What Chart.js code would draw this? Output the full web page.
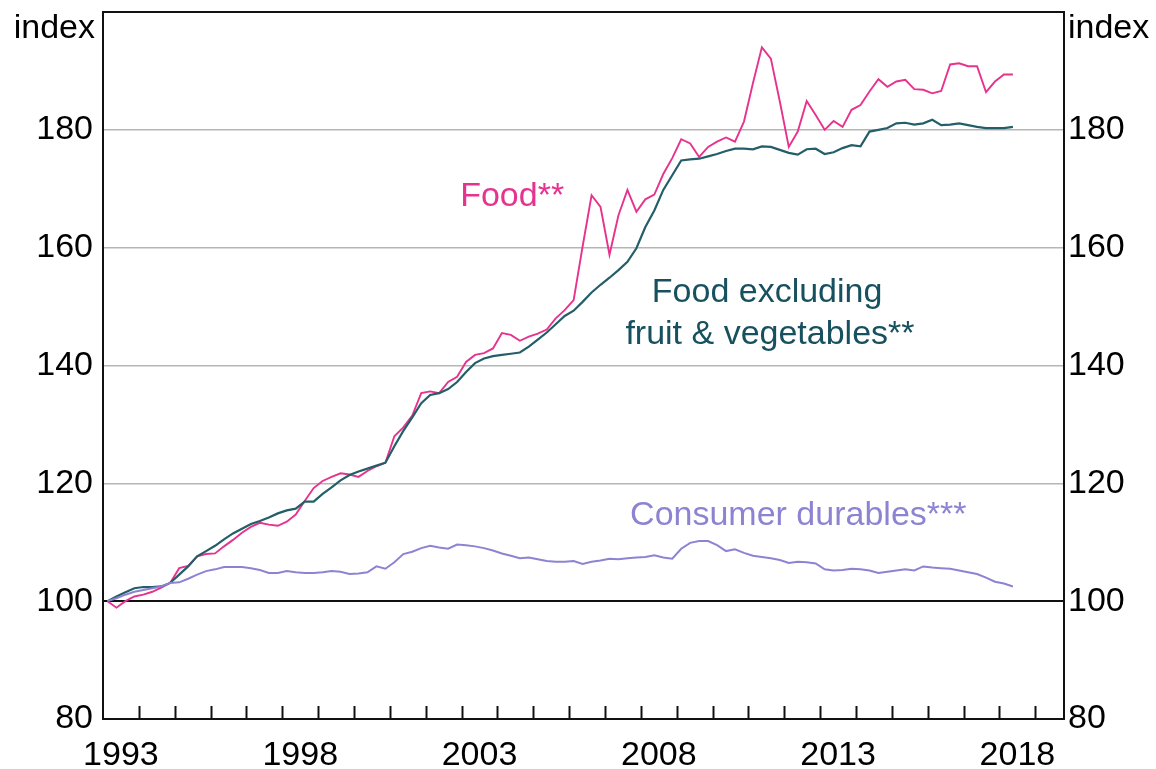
<!DOCTYPE html>
<html>
<head>
<meta charset="utf-8">
<script src="https://cdn.jsdelivr.net/npm/chart.js@4"></script>
<style>
  html, body { margin: 0; padding: 0; background: #fff; }
  #wrap { width: 1156px; height: 769px; }
</style>
</head>
<body>
<div id="wrap"><canvas id="grafico" width="1156" height="769"></canvas></div>
<script>
// quarterly series, 1993 Q1 to 2018 Q2, index = 100 at start
const startYear = 1993;
const yearLabels = ['1993', '1998', '2003', '2008', '2013', '2018'];
const yTicks = [80, 100, 120, 140, 160, 180];

const food = [
  100.0, 98.9, 100.0, 100.8, 101.1, 101.6, 102.3, 103.1, 105.6, 106.0,
  107.6, 108.0, 108.1, 109.3, 110.4, 111.6, 112.6, 113.3, 113.0, 112.8,
  113.5, 114.7, 117.0, 119.2, 120.4, 121.1, 121.7, 121.5, 121.1, 122.1,
  122.9, 123.5, 128.0, 129.5, 131.5, 135.3, 135.6, 135.3, 137.2, 138.1,
  140.6, 141.8, 142.1, 142.9, 145.5, 145.2, 144.2, 144.9, 145.4, 146.1,
  148.0, 149.4, 151.1, 160.2, 168.9, 166.9, 158.8, 165.5, 169.8, 166.1,
  168.2, 169.0, 172.5, 175.2, 178.4, 177.7, 175.4, 177.1, 178.0, 178.7,
  178.0, 181.4, 187.9, 194.0, 192.1, 184.8, 177.1, 179.7, 184.9, 182.5,
  180.0, 181.5, 180.5, 183.4, 184.2, 186.5, 188.6, 187.3, 188.2, 188.5,
  186.9, 186.8, 186.2, 186.6, 191.1, 191.3, 190.8, 190.8, 186.4, 188.2,
  189.4, 189.4
];

const foodExFV = [
  100.0, 100.8, 101.5, 102.2, 102.4, 102.4, 102.5, 103.1, 104.5, 105.9,
  107.6, 108.5, 109.4, 110.5, 111.5, 112.3, 113.1, 113.6, 114.2, 114.9,
  115.4, 115.7, 116.9, 116.9, 118.2, 119.3, 120.5, 121.4, 122.0, 122.5,
  123.0, 123.5, 126.3, 128.9, 131.2, 133.6, 135.0, 135.3, 136.0, 137.2,
  138.9, 140.4, 141.2, 141.6, 141.8, 142.0, 142.2, 143.2, 144.4, 145.6,
  147.0, 148.4, 149.3, 150.8, 152.4, 153.7, 154.9, 156.2, 157.6, 159.9,
  163.5, 166.3, 169.8, 172.3, 174.8, 175.0, 175.1, 175.5, 175.9, 176.4,
  176.8, 176.8, 176.7, 177.2, 177.1, 176.6, 176.1, 175.8, 176.7, 176.8,
  175.9, 176.2, 176.9, 177.4, 177.2, 179.7, 180.0, 180.3, 181.1, 181.2,
  180.9, 181.1, 181.7, 180.8, 180.9, 181.1, 180.8, 180.5, 180.3, 180.3,
  180.3, 180.5
];

const durables = [
  100.0, 100.5, 101.1, 101.6, 101.9, 102.2, 102.5, 103.1, 103.2, 103.8,
  104.5, 105.1, 105.4, 105.8, 105.8, 105.8, 105.6, 105.3, 104.8, 104.8,
  105.1, 104.9, 104.8, 104.8, 104.9, 105.1, 105.0, 104.6, 104.7, 104.9,
  105.9, 105.5, 106.6, 108.0, 108.4, 109.0, 109.4, 109.1, 108.9, 109.6,
  109.5, 109.3, 109.0, 108.6, 108.1, 107.7, 107.3, 107.4, 107.1, 106.8,
  106.7, 106.7, 106.8, 106.3, 106.7, 106.9, 107.2, 107.1, 107.3, 107.4,
  107.5, 107.8, 107.4, 107.2, 108.9, 109.9, 110.2, 110.2, 109.5, 108.5,
  108.8, 108.2, 107.7, 107.5, 107.3, 107.0, 106.5, 106.7, 106.6, 106.4,
  105.4, 105.2, 105.3, 105.5, 105.4, 105.2, 104.8, 105.0, 105.2, 105.4,
  105.2, 105.9, 105.7, 105.6, 105.5, 105.2, 104.9, 104.6, 104.0, 103.3,
  103.0, 102.5
];

const PINK = '#e6338d';
const TEAL = '#245f69';
const TEAL_TEXT = '#17505e';
const LAVENDER = '#8c84d2';
const FONT = "'Liberation Sans', Arial, sans-serif";
const SIZE = 34;

// each quarter plotted at mid-quarter
const toPoints = vals => vals.map((v, i) => ({ x: startYear + 0.125 + i * 0.25, y: v }));

const etiquetas = [
  { text: 'Food**', x: 2004.41, y: 168.6, color: PINK },
  { text: 'Food excluding', x: 2011.52, y: 152.4, color: TEAL_TEXT },
  { text: 'fruit & vegetables**', x: 2011.6, y: 145.3, color: TEAL_TEXT },
  { text: 'Consumer durables***', x: 2012.39, y: 114.6, color: LAVENDER }
];

function zeroPad(scale) {
  scale.paddingTop = 0; scale.paddingBottom = 0;
  scale.paddingLeft = 0; scale.paddingRight = 0;
}

const marco = {
  id: 'marco',
  afterDraw(chart) {
    const { ctx, chartArea: a, scales } = chart;
    ctx.save();
    // year tick marks pointing into the plot
    ctx.strokeStyle = '#111';
    ctx.lineWidth = 2;
    for (let yr = startYear + 1; yr <= 2019; yr++) {
      const px = Math.round(scales.x.getPixelForValue(yr)) + 0.5;
      ctx.beginPath();
      ctx.moveTo(px, a.bottom);
      ctx.lineTo(px, a.bottom - 13);
      ctx.stroke();
    }
    ctx.strokeRect(a.left, a.top, a.right - a.left, a.bottom - a.top);

    ctx.font = SIZE + 'px ' + FONT;
    ctx.fillStyle = '#000';
    ctx.textBaseline = 'alphabetic';
    ctx.textAlign = 'right';
    ctx.fillText('index', a.left - 8, a.top + 26);
    ctx.textAlign = 'left';
    ctx.fillText('index', a.right + 4, a.top + 26);

    ctx.textAlign = 'center';
    ctx.textBaseline = 'middle';
    etiquetas.forEach(e => {
      ctx.fillStyle = e.color;
      ctx.fillText(e.text, scales.x.getPixelForValue(e.x), scales.y.getPixelForValue(e.y));
    });
    ctx.restore();
  }
};

const ctx = document.getElementById('grafico').getContext('2d');
new Chart(ctx, {
  type: 'line',
  data: {
    datasets: [
      { label: 'Consumer durables***', data: toPoints(durables), borderColor: LAVENDER, borderWidth: 2 },
      { label: 'Food excluding fruit & vegetables**', data: toPoints(foodExFV), borderColor: TEAL, borderWidth: 2.2 },
      { label: 'Food**', data: toPoints(food), borderColor: PINK, borderWidth: 1.9 }
    ]
  },
  options: {
    responsive: false,
    animation: false,
    events: [],
    elements: { point: { radius: 0 }, line: { tension: 0, fill: false } },
    layout: { padding: { top: 12, left: 0, right: 0, bottom: 0 } },
    plugins: { legend: { display: false }, tooltip: { enabled: false } },
    scales: {
      x: {
        type: 'linear',
        position: 'bottom',
        min: 1993,
        max: 2019.8,
        grid: { display: false },
        border: { display: false },
        afterBuildTicks: s => { s.ticks = yearLabels.map(l => ({ value: Number(l) + 0.5 })); },
        afterFit: s => { s.height = 50; zeroPad(s); },
        ticks: {
          autoSkip: false,
          maxRotation: 0,
          padding: 8,
          color: '#000',
          font: { family: FONT, size: SIZE },
          callback: v => String(Math.floor(v))
        }
      },
      y: {
        position: 'left',
        min: 80,
        max: 200,
        border: { display: false },
        grid: {
          drawTicks: false,
          color: c => c.tick.value === 100 ? '#111' : (c.tick.value === 80 ? 'rgba(0,0,0,0)' : '#b5b5b5'),
          lineWidth: c => c.tick.value === 100 ? 2 : 1.5
        },
        afterBuildTicks: s => { s.ticks = yTicks.map(v => ({ value: v })); },
        afterFit: s => { s.width = 103; zeroPad(s); },
        ticks: { padding: 10, color: '#000', font: { family: FONT, size: SIZE } }
      },
      y2: {
        position: 'right',
        min: 80,
        max: 200,
        border: { display: false },
        grid: { display: false, drawTicks: false },
        afterBuildTicks: s => { s.ticks = yTicks.map(v => ({ value: v })); },
        afterFit: s => { s.width = 92; zeroPad(s); },
        ticks: { padding: 4, color: '#000', font: { family: FONT, size: SIZE } }
      }
    }
  },
  plugins: [marco]
});
</script>
</body>
</html>
